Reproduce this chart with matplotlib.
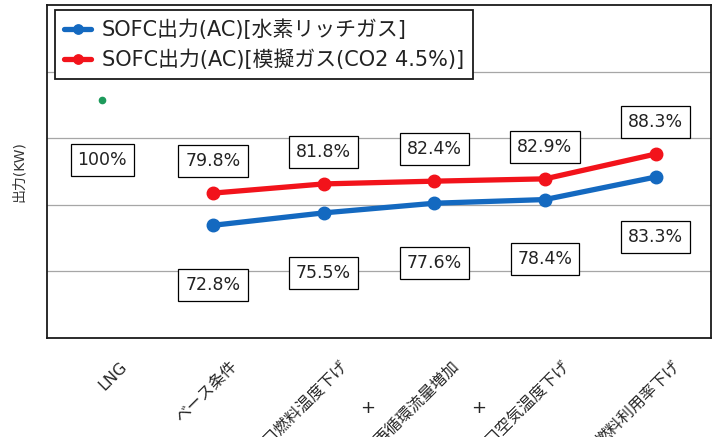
import numpy as np
import matplotlib
matplotlib.use("Agg")
import matplotlib.pyplot as plt
import matplotlib.transforms as mtransforms

plt.rcParams['font.family'] = ['DejaVu Sans', 'Noto Sans CJK JP']

# categories (x axis)
categories = ["LNG", "ベース条件", "入口燃料温度下げ", "再循環流量増加",
              "入口空気温度下げ", "燃料利用率下げ"]

# output ratio [%] for each case
lng_value = 100.0
h2_rich = [72.8, 75.5, 77.6, 78.4, 83.3]      # 水素リッチガス
simulated = [79.8, 81.8, 82.4, 82.9, 88.3]    # 模擬ガス(CO2 4.5%)

h2_label = "SOFC出力(AC)[水素リッチガス]"
sim_label = "SOFC出力(AC)[模擬ガス(CO2 4.5%)]"
ylabel = "出力(KW)"

# cases that are stacked on top of the previous one
plus_after = [2, 3]

BLUE = "#1469c0"
RED = "#f2131b"
GREEN = "#1d9a5b"

fig = plt.figure(figsize=(7.17, 4.37), dpi=100)
ax = fig.add_axes([47 / 717, 99 / 437, 664 / 717, 333 / 437])

x_lng = 0
x_cases = np.arange(1, len(categories))

ax.plot(x_cases, h2_rich, color=BLUE, lw=3.8, marker="o", ms=9,
        solid_capstyle="round", label=h2_label, zorder=4)
ax.plot(x_cases, simulated, color=RED, lw=3.8, marker="o", ms=9,
        solid_capstyle="round", label=sim_label, zorder=4)
ax.plot([x_lng], [lng_value], color=GREEN, marker="o", ms=4.5, ls="none",
        zorder=4)

# value boxes
box = dict(boxstyle="square,pad=0.4", fc="white", ec="black", lw=0.9)


def put_label(x, v, dy):
    ax.annotate(f"{v:g}%" if v == 100 else f"{v:.1f}%", (x, v),
                xytext=(0, dy), textcoords="offset points",
                ha="center", va="center", fontsize=12.5, color="#222222",
                bbox=box, zorder=5)


put_label(x_lng, lng_value, -43)
for x, v in zip(x_cases, simulated):
    put_label(x, v, 23)
for x, v in zip(x_cases, h2_rich):
    put_label(x, v, -43)

# axis scale / grid
grid_step = 14.48
ybottom = 48.3
ax.set_ylim(ybottom, ybottom + 5 * grid_step)
ax.set_xlim(-0.5, len(categories) - 0.5)
ax.set_yticks(ybottom + grid_step * np.arange(1, 5))
ax.set_xticks([])
ax.tick_params(axis="y", length=0, labelleft=False)
ax.grid(axis="y", color="#a6a6a6", lw=0.9, zorder=0)
ax.set_axisbelow(True)
for s in ax.spines.values():
    s.set_color("#1a1a1a")
    s.set_linewidth(1.3)

ax.set_ylabel(ylabel, fontsize=10, color="#333333")
ax.yaxis.set_label_coords(-0.032, 0.5)

# rotated category labels (long ones run past the bottom edge)
offset = mtransforms.ScaledTranslation(0.22, -0.26, fig.dpi_scale_trans)
trans = ax.get_xaxis_transform() + offset
for i, name in enumerate(categories):
    ax.text(i, 0, name, transform=trans, rotation=45, rotation_mode="anchor",
            ha="right", va="center", fontsize=11.5, color="#262626")

for i in plus_after:
    ax.text(i + 0.4, -0.21, "+", transform=ax.get_xaxis_transform(),
            ha="center", va="center", fontsize=13, color="#262626")

leg = ax.legend(loc="upper left", bbox_to_anchor=(0.012, 0.985),
                borderaxespad=0, fontsize=15, handlelength=1.3,
                handletextpad=0.5, labelspacing=0.45, borderpad=0.45,
                fancybox=False, framealpha=1, edgecolor="#1a1a1a",
                markerscale=0.75)
leg.get_frame().set_linewidth(1.3)
leg.set_zorder(6)
for t in leg.get_texts():
    t.set_color("#222222")

fig.savefig("out.png", dpi=100)
